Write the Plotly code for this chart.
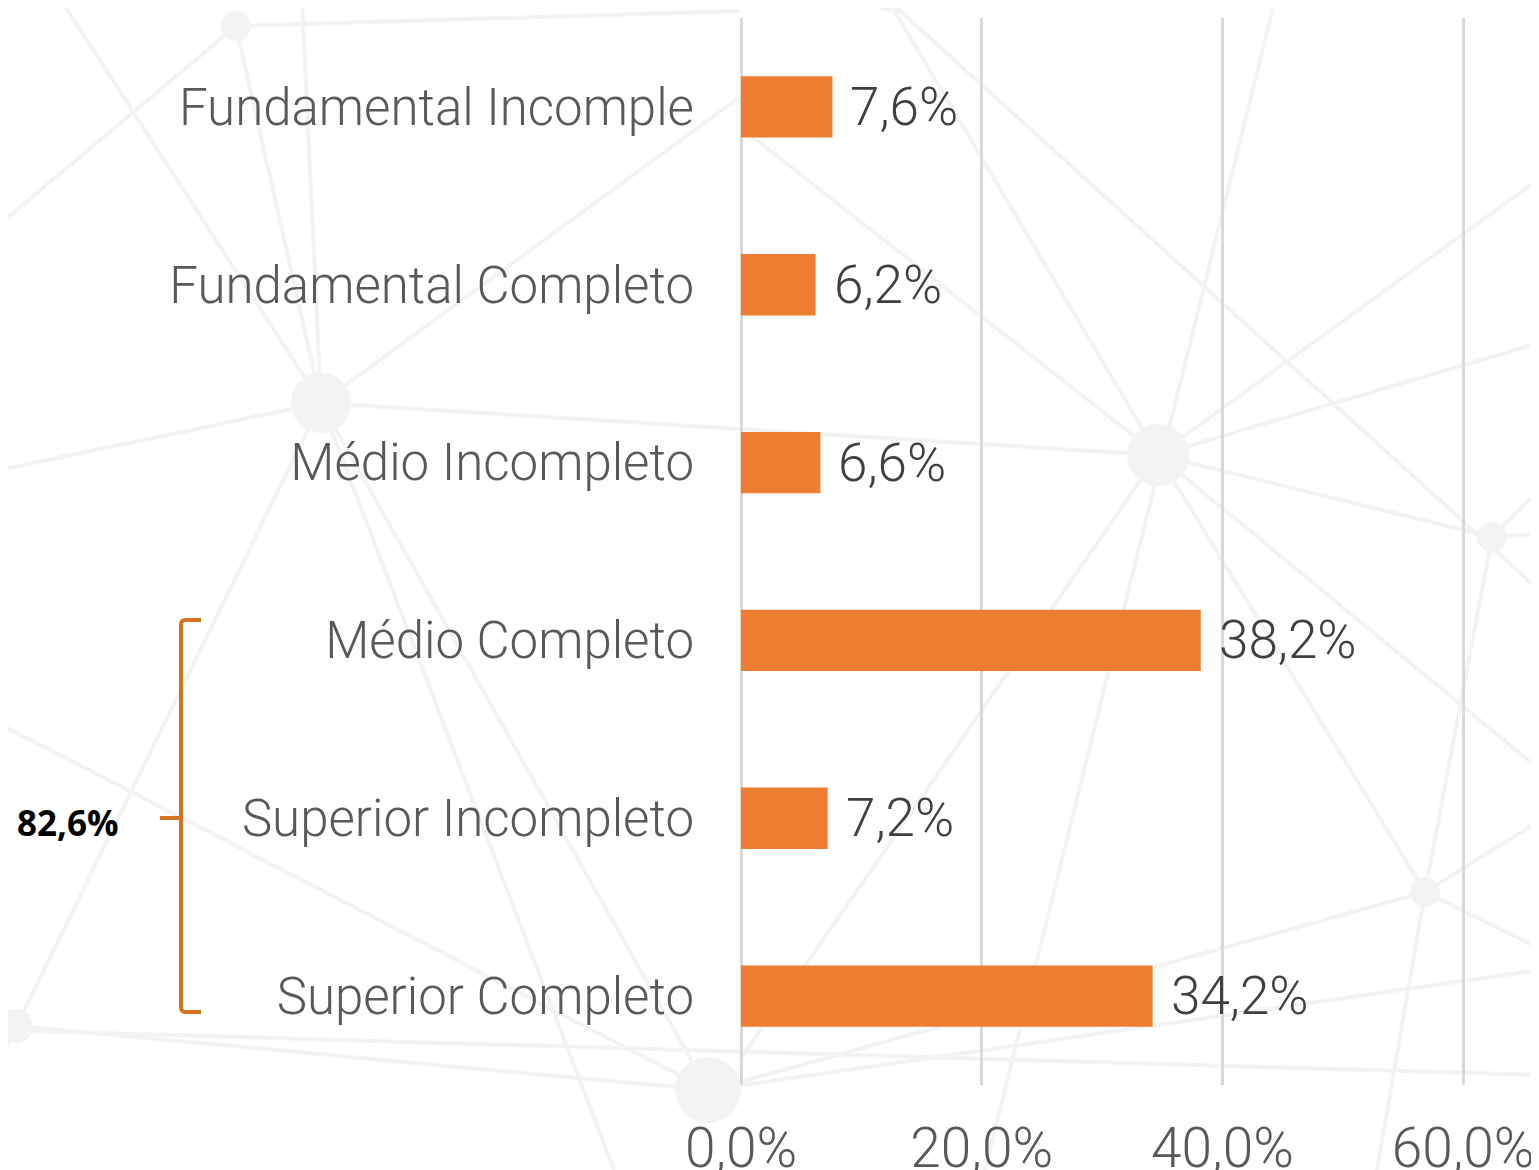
import plotly.graph_objects as go

categories = ["Fundamental Incomple", "Fundamental Completo", "Médio Incompleto",
              "Médio Completo", "Superior Incompleto", "Superior Completo"]
values = [7.6, 6.2, 6.6, 38.2, 7.2, 34.2]
value_labels = ["7,6%", "6,2%", "6,6%", "38,2%", "7,2%", "34,2%"]
tick_vals = [0, 20, 40, 60]
tick_text = ["0,0%", "20,0%", "40,0%", "60,0%"]
bracket_label = "82,6%"

BAR = "#ED7D31"
BRACKET = "#D5731E"
DECOR = "#F3F3F3"

# plot area in page pixels (body margin of 8px is included)
PL, PR, PT, PB = 741, 1539, 18, 1085


def px(x, y):
    return (x - PL) / (PR - PL), (PB - y) / (PB - PT)


fig = go.Figure()

# faint network decoration in the background (page pixels)
nodes = [(236, 26, 15), (321, 403, 30), (1158, 455, 31), (708, 1090, 33),
         (1492, 537, 15), (1425, 892, 15), (16, 1026, 17), (888, 0, 12)]
links = [
    ((236, 26), (740, 11)), ((0, 224), (236, 26)), ((61, 0), (321, 403)),
    ((236, 26), (321, 403)), ((302, 0), (321, 403)), ((321, 403), (740, 97)),
    ((0, 470), (321, 403)), ((321, 403), (1158, 455)), ((321, 403), (614, 1170)),
    ((321, 403), (708, 1090)), ((0, 724), (708, 1090)), ((16, 1026), (708, 1090)),
    ((0, 1030), (1539, 1075)), ((0, 1060), (321, 403)),
    ((740, 127), (1158, 455)), ((888, 0), (1158, 455)), ((888, 0), (1539, 590)),
    ((1275, 0), (985, 1170)), ((1158, 455), (740, 1060)),
    ((1158, 455), (1492, 537)), ((1492, 537), (1539, 534)),
    ((1158, 455), (1539, 179)), ((1158, 455), (1539, 343)), ((1158, 455), (1539, 769)),
    ((1158, 455), (1425, 892)), ((1492, 537), (1425, 892)), ((1425, 892), (1377, 1170)),
    ((1425, 892), (740, 1082)), ((1425, 892), (1539, 821)), ((1425, 892), (1539, 948)),
    ((708, 1090), (1539, 970)), ((1492, 537), (1539, 490)),
]
for (xa, ya), (xb, yb) in links:
    a, b = px(xa, ya), px(xb, yb)
    fig.add_shape(type="line", xref="paper", yref="paper", x0=a[0], y0=a[1], x1=b[0], y1=b[1],
                  line=dict(color=DECOR, width=4), layer="below")
for (xc, yc, r) in nodes:
    a, b = px(xc - r, yc + r), px(xc + r, yc - r)
    fig.add_shape(type="circle", xref="paper", yref="paper", x0=a[0], y0=a[1], x1=b[0], y1=b[1],
                  line=dict(width=0), fillcolor=DECOR, layer="below")

fig.add_trace(go.Bar(
    x=values, y=categories, orientation="h",
    marker=dict(color=BAR, line=dict(width=0)),
    width=0.345, hoverinfo="skip",
))

for v, c, t in zip(values, categories, value_labels):
    fig.add_annotation(x=v, y=c, text=t, showarrow=False, xanchor="left",
                       yanchor="middle", xshift=16,
                       font=dict(family="Roboto", size=53, color="#404040", weight=300))

# bracket grouping the last three categories
x0, yt = px(181, 620)
x1, yb = px(201, 1012)
xm, ym = px(160, 818)
c = 0.006
path = (f"M {x1},{yt} L {x0 + c},{yt} Q {x0},{yt} {x0},{yt - c * 0.75} "
        f"L {x0},{yb + c * 0.75} Q {x0},{yb} {x0 + c},{yb} L {x1},{yb} "
        f"M {x0},{ym} L {xm},{ym}")
fig.add_shape(type="path", xref="paper", yref="paper", path=path,
              line=dict(color=BRACKET, width=4))
lx, ly = px(68, 822)
fig.add_annotation(xref="paper", yref="paper", x=lx, y=ly, text=f"<b>{bracket_label}</b>",
                   showarrow=False, xanchor="center", yanchor="middle",
                   font=dict(family="Open Sans", size=35, color="#000000"))

fig.update_layout(
    width=1531, height=1162,
    margin=dict(l=733, r=0, t=10, b=85, autoexpand=False),
    paper_bgcolor="white", plot_bgcolor="rgba(0,0,0,0)",
    showlegend=False,
    xaxis=dict(range=[0, 66.3], tickvals=tick_vals, ticktext=tick_text,
               showgrid=True, gridcolor="#D9D9D9", gridwidth=2.5,
               zeroline=True, zerolinecolor="#D9D9D9", zerolinewidth=2.5,
               showline=False, ticks="", ticklabelstandoff=26, automargin=False,
               tickfont=dict(family="Roboto", size=55, color="#595959", weight=300)),
    yaxis=dict(categoryorder="array", categoryarray=categories, autorange="reversed",
               showgrid=False, zeroline=False, showline=False, ticks="",
               ticklabelstandoff=46, automargin=False,
               tickfont=dict(family="Roboto", size=51, color="#595959", weight=300)),
)

fig.write_html("out.html")
